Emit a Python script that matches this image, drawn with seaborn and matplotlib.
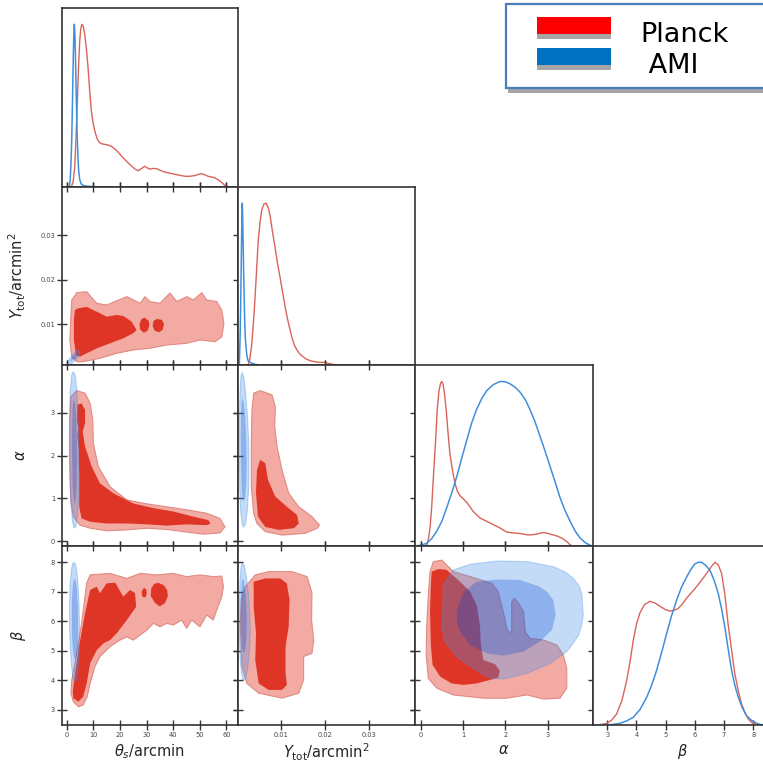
import numpy as np
import pandas as pd
import seaborn as sns
import matplotlib
matplotlib.use("Agg")
import matplotlib.pyplot as plt
from matplotlib.path import Path
from matplotlib.patches import PathPatch, Rectangle

sns.set_theme(style="white")
plt.rcParams["font.family"] = ["DejaVu Sans"]
plt.rcParams["mathtext.fontset"] = "dejavusans"

# ---------------- data: 1D marginals (peak-normalised) ----------------
theta_planck_x = [-1.7, 1.7, 2.4, 3.0, 3.5, 4.0, 4.5, 4.9, 5.3, 5.75, 6.2, 6.75, 7.4, 8.0, 8.6, 9.25, 10.0, 10.8,
                  11.6, 12.4, 13.3, 14.3, 15.5, 16.8, 18.0, 19.3, 20.5, 21.8, 23.0, 24.3, 25.5, 26.8, 28.0,
                  29.3, 30.2, 31.2, 32.5, 33.7, 35.2, 36.8, 38.7, 40.6, 42.5, 44.4, 46.3, 48.1, 49.5, 50.6,
                  51.8, 53.1, 54.4, 55.6, 56.9, 58.1, 59.1, 60.0, 61.0, 64.4]
theta_planck_d = [0, 0, 0.03, 0.12, 0.30, 0.53, 0.76, 0.90, 0.975, 1.0, 0.99, 0.94, 0.85, 0.74, 0.60, 0.47, 0.385,
                  0.33, 0.29, 0.272, 0.265, 0.262, 0.258, 0.25, 0.235, 0.215, 0.192, 0.17, 0.15, 0.13, 0.112,
                  0.10, 0.112, 0.127, 0.118, 0.11, 0.114, 0.113, 0.102, 0.092, 0.085, 0.078, 0.072, 0.066,
                  0.066, 0.07, 0.077, 0.082, 0.076, 0.066, 0.062, 0.057, 0.045, 0.03, 0.015, 0.004, 0, 0]
theta_ami_x = [-1.7, 1.0, 1.3, 1.6, 1.9, 2.2, 2.45, 2.65, 2.86, 3.05, 3.25, 3.45, 3.7, 3.95, 4.2, 4.5, 4.9,
               5.5, 6.5, 8.0, 11.0, 14.9]
theta_ami_d = [0, 0, 0.04, 0.14, 0.3, 0.55, 0.78, 0.93, 1.0, 0.95, 0.83, 0.67, 0.48, 0.31, 0.19, 0.1, 0.045,
               0.018, 0.008, 0.004, 0.002, 0]

Y_planck_x = [0.0003, 0.0026, 0.0030, 0.0034, 0.0038, 0.0042, 0.00455, 0.0049, 0.0053, 0.0057, 0.0062, 0.0067,
              0.0072, 0.0076, 0.0081, 0.0087, 0.0092, 0.0098, 0.0104, 0.0110, 0.0115, 0.0121, 0.0126, 0.0132,
              0.0138, 0.0144, 0.0151, 0.0159, 0.0170, 0.0182, 0.0191, 0.0200, 0.0206, 0.0212, 0.0220, 0.0227,
              0.0405]
Y_planck_d = [0, 0, 0.04, 0.12, 0.26, 0.43, 0.6, 0.77, 0.88, 0.96, 0.995, 1.0, 0.97, 0.92, 0.83, 0.73, 0.64,
              0.55, 0.455, 0.36, 0.29, 0.22, 0.165, 0.117, 0.088, 0.066, 0.05, 0.035, 0.024, 0.018, 0.017,
              0.016, 0.012, 0.008, 0.003, 0, 0]
Y_ami_x = [0.0003, 0.0006, 0.0008, 0.0009, 0.0010, 0.0011, 0.00118, 0.00127, 0.00135, 0.0014, 0.0015, 0.0016,
           0.0017, 0.0018, 0.0019, 0.0020, 0.0023, 0.0026, 0.0032, 0.0042, 0.0053]
Y_ami_d = [0, 0, 0.2, 0.36, 0.55, 0.76, 0.9, 1.0, 0.92, 0.86, 0.7, 0.55, 0.42, 0.3, 0.21, 0.15, 0.06, 0.025,
           0.014, 0.004, 0]

alpha_planck_x = [-0.13, 0.14, 0.18, 0.22, 0.26, 0.30, 0.35, 0.39, 0.43, 0.47, 0.50, 0.53, 0.56, 0.60, 0.645,
                  0.69, 0.75, 0.81, 0.87, 0.93, 1.01, 1.09, 1.16, 1.24, 1.32, 1.40, 1.52, 1.64, 1.75, 1.87,
                  1.95, 2.03, 2.15, 2.27, 2.39, 2.51, 2.62, 2.74, 2.82, 2.90, 2.98, 3.06, 3.15, 3.25, 3.35,
                  3.45, 3.51, 3.57, 4.07]
alpha_planck_d = [0, 0, 0.04, 0.11, 0.24, 0.42, 0.63, 0.83, 0.94, 0.99, 1.0, 0.98, 0.93, 0.83, 0.69, 0.56,
                  0.46, 0.38, 0.33, 0.305, 0.285, 0.264, 0.24, 0.21, 0.19, 0.17, 0.155, 0.14, 0.125, 0.11,
                  0.097, 0.085, 0.08, 0.078, 0.074, 0.068, 0.068, 0.072, 0.078, 0.082, 0.078, 0.072, 0.066,
                  0.058, 0.045, 0.027, 0.012, 0, 0]
alpha_ami_x = [-0.13, 0.0, 0.14, 0.26, 0.38, 0.50, 0.61, 0.73, 0.85, 0.97, 1.09, 1.20, 1.32, 1.44, 1.56, 1.71,
               1.87, 1.99, 2.11, 2.23, 2.35, 2.47, 2.58, 2.70, 2.82, 2.94, 3.06, 3.18, 3.29, 3.41, 3.53, 3.65,
               3.77, 3.90, 4.04]
alpha_ami_d = [0, 0.005, 0.016, 0.045, 0.09, 0.15, 0.23, 0.32, 0.42, 0.535, 0.645, 0.745, 0.83, 0.895, 0.944,
               0.98, 1.0, 0.998, 0.986, 0.965, 0.934, 0.89, 0.83, 0.755, 0.666, 0.575, 0.48, 0.385, 0.295,
               0.215, 0.15, 0.09, 0.047, 0.018, 0]

beta_planck_x = [2.51, 2.69, 2.98, 3.15, 3.32, 3.5, 3.66, 3.78, 3.89, 4.0, 4.12, 4.28, 4.46, 4.63, 4.80, 4.98,
                 5.15, 5.29, 5.43, 5.58, 5.72, 5.89, 6.06, 6.23, 6.40, 6.55, 6.69, 6.80, 6.92, 7.03, 7.14,
                 7.26, 7.37, 7.49, 7.60, 7.72, 7.83, 7.95, 8.06, 8.33, 8.61]
beta_planck_d = [0, 0, 0.01, 0.03, 0.068, 0.15, 0.27, 0.39, 0.52, 0.62, 0.69, 0.74, 0.76, 0.75, 0.73, 0.71,
                 0.70, 0.705, 0.716, 0.745, 0.78, 0.815, 0.85, 0.89, 0.93, 0.97, 1.0, 0.985, 0.93, 0.80, 0.62,
                 0.46, 0.315, 0.21, 0.13, 0.075, 0.037, 0.015, 0.006, 0, 0]
beta_ami_x = [2.51, 2.98, 3.2, 3.43, 3.66, 3.89, 4.12, 4.35, 4.52, 4.69, 4.86, 5.03, 5.2, 5.38, 5.55, 5.72,
              5.86, 6.0, 6.12, 6.23, 6.38, 6.52, 6.66, 6.80, 6.92, 7.03, 7.14, 7.26, 7.37, 7.49, 7.63, 7.77,
              7.92, 8.06, 8.2, 8.33, 8.61]
beta_ami_d = [0, 0, 0.004, 0.01, 0.025, 0.047, 0.095, 0.17, 0.245, 0.335, 0.445, 0.56, 0.67, 0.77, 0.85, 0.91,
              0.955, 0.99, 1.0, 1.0, 0.98, 0.95, 0.89, 0.81, 0.71, 0.6, 0.47, 0.335, 0.245, 0.17, 0.105, 0.058,
              0.032, 0.016, 0.005, 0, 0]

# ---------------- data: 2D credible-region boundaries (68% inner, 95% outer) ----------------
# theta_s vs Y_tot
planck_thY_outer = ([1.9, 3.8, 7.5, 11.3, 15.0, 22.6, 27.6, 29.4, 31.3, 35.1, 38.8, 41.4, 45.1, 47.6, 50.8, 52.6,
                     56.4, 58.3, 59.1, 58.3, 55.8, 50.1, 45.1, 37.6, 31.3, 25.0, 18.8, 12.5, 6.2, 3.8, 1.9, 1.2, 1.5],
                    [0.01545, 0.01709, 0.0173, 0.0147, 0.01433, 0.0162, 0.0147, 0.0162, 0.0151, 0.0147, 0.0170,
                     0.0151, 0.0162, 0.01545, 0.0171, 0.01545, 0.0151, 0.0132, 0.0102, 0.0072, 0.0061, 0.00648,
                     0.00574, 0.00536, 0.00462, 0.00424, 0.0035, 0.00238, 0.00161, 0.00161, 0.00274, 0.00648, 0.011])
planck_thY_inner = ([3.1, 4.4, 7.5, 12.5, 15.0, 18.8, 21.3, 24.4, 26.3, 25.0, 21.3, 16.3, 11.3, 7.5, 5.0, 3.5, 2.7, 2.7],
                    [0.0132, 0.0136, 0.0139, 0.01247, 0.0117, 0.0121, 0.01186, 0.0106, 0.0087, 0.0080, 0.00686,
                     0.00574, 0.0046, 0.0035, 0.00274, 0.0031, 0.0065, 0.011])
planck_thY_island1 = ([29.2, 30.8, 31.1, 30.5, 29.0, 27.6, 27.4, 28.0],
                      [0.0115, 0.0108, 0.0098, 0.0086, 0.0081, 0.0088, 0.0100, 0.0111])
planck_thY_island2 = ([34.0, 35.8, 36.6, 36.0, 34.6, 33.0, 32.3, 32.7],
                      [0.0112, 0.0110, 0.0100, 0.0087, 0.0082, 0.0086, 0.0097, 0.0108])
ami_thY_outer = ([0.7, 1.5, 2.5, 3.5, 4.4, 5.0, 4.6, 3.9, 3.2, 2.3, 1.5, 0.6],
                 [0.0013, 0.0011, 0.0015, 0.0021, 0.0028, 0.0033, 0.0042, 0.0041, 0.0038, 0.0032, 0.0026, 0.0018])
ami_thY_inner = ([1.5, 3.0, 4.2, 3.6, 2.2, 1.3],
                 [0.0016, 0.0022, 0.0032, 0.0036, 0.0028, 0.0020])

# theta_s vs alpha
planck_tha_outer = ([3.76, 6.9, 8.8, 9.8, 10.0, 11.9, 16.3, 22.6, 30.1, 37.6, 45.1, 52.6, 57.6, 59.5, 57.6, 51.4,
                     43.8, 37.6, 30.1, 22.6, 15.0, 8.8, 5.0, 2.5, 1.5, 1.2, 1.2, 1.6],
                    [3.52, 3.46, 3.22, 2.83, 2.29, 1.74, 1.27, 0.96, 0.87, 0.80, 0.73, 0.65, 0.53, 0.33, 0.19, 0.16,
                     0.22, 0.27, 0.30, 0.26, 0.24, 0.30, 0.37, 0.57, 0.96, 1.90, 2.83, 3.38])
planck_tha_inner = ([4.0, 5.6, 6.9, 6.9, 6.0, 6.9, 9.4, 12.5, 17.5, 25.0, 32.6, 40.1, 47.6, 53.2, 54.1, 52.6, 45.1,
                     37.6, 30.1, 22.6, 15.0, 8.8, 5.6, 4.7, 4.7, 4.4, 4.0, 4.4, 3.8],
                    [3.19, 3.22, 3.07, 2.76, 2.56, 2.21, 1.74, 1.35, 1.12, 0.88, 0.77, 0.69, 0.57, 0.49, 0.41, 0.37,
                     0.39, 0.36, 0.39, 0.41, 0.41, 0.45, 0.53, 0.80, 1.51, 2.21, 2.48, 2.64, 2.83])
ami_tha_outer = ([2.7, 3.3, 3.9, 4.3, 4.55, 4.6, 4.4, 4.0, 3.4, 2.8, 2.2, 1.6, 1.15, 0.95, 1.0, 1.3, 1.8, 2.2],
                 [3.95, 3.85, 3.45, 2.8, 2.1, 1.5, 0.95, 0.55, 0.33, 0.3, 0.45, 0.85, 1.5, 2.2, 2.9, 3.5, 3.85, 3.95])
ami_tha_inner = ([2.8, 3.2, 3.6, 3.85, 3.9, 3.75, 3.45, 3.0, 2.55, 2.2, 2.0, 2.0, 2.2, 2.5],
                 [3.3, 3.2, 2.85, 2.3, 1.8, 1.3, 0.98, 0.88, 1.0, 1.4, 2.0, 2.6, 3.05, 3.28])

# theta_s vs beta
planck_thb_outer = ([1.9, 3.1, 5.6, 7.5, 8.8, 16.3, 22.6, 27.6, 33.8, 40.1, 45.1, 50.1, 55.1, 58.3, 58.9, 58.3,
                     56.4, 55.1, 52.6, 50.1, 47.0, 45.1, 43.2, 40.1, 37.6, 35.1, 32.6, 30.1, 27.6, 25.0, 22.6,
                     20.0, 16.3, 12.5, 10.6, 8.8, 7.7, 6.2, 4.4, 2.5, 1.6],
                    [4.01, 4.57, 5.93, 7.28, 7.57, 7.62, 7.45, 7.62, 7.57, 7.62, 7.51, 7.57, 7.51, 7.53, 7.17, 6.83,
                     6.38, 6.04, 6.21, 5.81, 6.04, 5.76, 6.04, 5.87, 5.93, 5.81, 5.93, 5.70, 5.53, 5.36, 5.47,
                     5.36, 5.14, 4.80, 4.46, 3.89, 3.44, 3.16, 3.10, 3.27, 3.56])
planck_thb_inner = ([2.5, 4.4, 6.9, 8.8, 11.3, 12.5, 15.0, 18.2, 21.3, 23.8, 25.7, 26.1, 24.4, 22.6, 18.8, 16.3,
                     13.8, 11.3, 8.8, 7.5, 6.2, 4.4, 2.5, 2.3],
                    [3.78, 5.02, 6.27, 7.06, 7.17, 6.95, 7.28, 7.31, 6.83, 7.06, 6.95, 6.49, 6.27, 6.04, 5.59, 5.36,
                     5.25, 5.02, 4.57, 3.89, 3.44, 3.27, 3.39, 3.61])
planck_thb_island1 = ([29.1, 29.9, 30.1, 29.8, 29.0, 28.3, 28.2],
                      [7.13, 7.08, 6.95, 6.83, 6.80, 6.87, 7.02])
planck_thb_island2 = ([34.5, 36.5, 37.8, 38.0, 37.0, 35.0, 33.2, 31.6, 31.8, 33.0],
                      [7.30, 7.22, 7.05, 6.85, 6.62, 6.50, 6.62, 6.85, 7.12, 7.27])
ami_thb_outer = ([2.8, 3.4, 4.0, 4.5, 4.75, 4.8, 4.6, 4.2, 3.6, 2.9, 2.3, 1.8, 1.35, 1.1, 1.05, 1.25, 1.7, 2.2],
                 [8.0, 7.9, 7.55, 6.9, 6.2, 5.5, 4.8, 4.3, 4.0, 3.95, 4.1, 4.5, 5.1, 5.8, 6.5, 7.2, 7.7, 7.95])
ami_thb_inner = ([3.0, 3.5, 3.95, 4.25, 4.3, 4.15, 3.8, 3.2, 2.6, 2.15, 1.9, 1.9, 2.1, 2.5],
                 [7.45, 7.35, 7.0, 6.4, 5.8, 5.2, 4.85, 4.7, 4.8, 5.2, 5.8, 6.5, 7.0, 7.35])

# Y_tot vs alpha
planck_Ya_outer = ([0.00386, 0.00536, 0.00802, 0.00877, 0.00864, 0.00916, 0.0103, 0.0118, 0.0141, 0.0171, 0.0188,
                    0.0183, 0.0156, 0.0103, 0.0065, 0.00461, 0.00386, 0.00332, 0.00332, 0.00348],
                   [3.46, 3.52, 3.42, 3.15, 2.68, 2.21, 1.66, 1.12, 0.80, 0.57, 0.37, 0.30, 0.18, 0.14, 0.22,
                    0.41, 0.65, 1.27, 2.29, 3.07])
planck_Ya_inner = ([0.00536, 0.0065, 0.00711, 0.00877, 0.01143, 0.0137, 0.0141, 0.0130, 0.00955, 0.0065, 0.00484,
                    0.00439, 0.00461],
                   [1.90, 1.82, 1.43, 1.04, 0.80, 0.61, 0.41, 0.30, 0.26, 0.33, 0.57, 1.12, 1.66])
ami_Ya_outer = ([0.0012, 0.0016, 0.0020, 0.0024, 0.0027, 0.0028, 0.0027, 0.0024, 0.0020, 0.0016, 0.0012, 0.0009,
                 0.0007, 0.00062, 0.0006, 0.00065, 0.00078, 0.00095],
                [3.95, 3.85, 3.5, 3.0, 2.4, 1.8, 1.2, 0.7, 0.4, 0.32, 0.4, 0.7, 1.2, 1.8, 2.4, 3.0, 3.5, 3.85])
ami_Ya_inner = ([0.00135, 0.0017, 0.0020, 0.0022, 0.0023, 0.0022, 0.0019, 0.0016, 0.0013, 0.0011, 0.00095, 0.0009,
                 0.00095, 0.0011],
                [3.35, 3.2, 2.85, 2.3, 1.8, 1.35, 1.0, 0.92, 1.0, 1.3, 1.8, 2.4, 2.9, 3.25])

# Y_tot vs beta
planck_Yb_outer = ([0.00195, 0.00423, 0.00727, 0.0126, 0.0160, 0.0171, 0.0170, 0.0175, 0.0171, 0.0152, 0.0152,
                    0.0141, 0.0103, 0.0050, 0.00234, 0.00120, 0.00082, 0.00105],
                   [7.17, 7.57, 7.68, 7.68, 7.51, 6.95, 6.04, 5.36, 4.91, 4.80, 4.01, 3.56, 3.39, 3.56, 3.89,
                    4.46, 5.81, 6.72])
planck_Yb_inner = ([0.00386, 0.0065, 0.0099, 0.0114, 0.0120, 0.0118, 0.0111, 0.0111, 0.0114, 0.0103, 0.00727,
                    0.0050, 0.00423, 0.00439, 0.00386],
                   [7.34, 7.45, 7.45, 7.28, 6.72, 5.81, 5.14, 4.23, 3.84, 3.67, 3.67, 3.89, 4.68, 5.59, 6.49])
ami_Yb_outer = ([0.0012, 0.0017, 0.0022, 0.0027, 0.0030, 0.0031, 0.0029, 0.0025, 0.0020, 0.0015, 0.0011, 0.0008,
                 0.00065, 0.0006, 0.00063, 0.00075, 0.00095],
                [7.98, 7.9, 7.5, 6.9, 6.2, 5.6, 5.0, 4.4, 4.05, 3.98, 4.2, 4.7, 5.3, 6.0, 6.7, 7.3, 7.8])
ami_Yb_inner = ([0.0013, 0.0017, 0.0020, 0.0022, 0.0023, 0.0022, 0.0019, 0.0015, 0.0012, 0.0010, 0.0009, 0.00093,
                 0.0011],
                [7.45, 7.35, 7.0, 6.5, 5.9, 5.4, 5.0, 4.92, 5.1, 5.6, 6.2, 6.8, 7.25])

# alpha vs beta
planck_ab_outer = ([0.30, 0.50, 0.77, 1.32, 1.68, 1.83, 1.95, 2.03, 2.11, 2.15, 2.15, 2.21, 2.31, 2.43, 2.47, 2.58,
                    2.90, 3.22, 3.37, 3.45, 3.45, 3.29, 2.90, 2.51, 2.03, 1.48, 0.77, 0.38, 0.18, 0.13, 0.14,
                    0.18, 0.22],
                   [8.02, 8.07, 7.68, 7.45, 7.28, 7.0, 6.32, 5.76, 5.59, 5.70, 6.66, 6.78, 6.61, 6.32, 5.64, 5.42,
                    5.36, 5.19, 4.85, 4.40, 3.73, 3.39, 3.36, 3.50, 3.39, 3.39, 3.50, 3.73, 4.06, 4.85, 5.76,
                    6.89, 7.68])
planck_ab_inner = ([0.26, 0.42, 0.61, 0.93, 1.17, 1.32, 1.40, 1.42, 1.48, 1.76, 1.87, 1.83, 1.64, 1.32, 1.01, 0.73,
                    0.46, 0.28, 0.24, 0.22, 0.24],
                   [7.68, 7.77, 7.74, 7.34, 7.0, 6.55, 5.87, 5.19, 4.68, 4.54, 4.31, 4.08, 4.01, 3.89, 3.84, 3.89,
                    4.12, 4.52, 5.19, 6.32, 7.23])
ami_ab_outer = ([0.53, 0.77, 1.17, 1.80, 2.51, 3.13, 3.40, 3.61, 3.75, 3.81, 3.84, 3.80, 3.73, 3.60, 3.45, 3.06,
                 2.51, 1.95, 1.64, 1.24, 0.85, 0.57, 0.50, 0.52],
                [7.23, 7.74, 7.93, 8.04, 8.02, 7.85, 7.68, 7.45, 7.18, 6.89, 6.21, 5.85, 5.53, 5.24, 4.97, 4.57,
                 4.23, 4.04, 4.06, 4.40, 4.80, 5.31, 5.80, 6.32])
ami_ab_inner = ([0.85, 1.01, 1.32, 1.80, 2.35, 2.82, 3.0, 3.13, 3.19, 3.10, 2.82, 2.43, 1.95, 1.56, 1.17, 0.93, 0.86],
                [6.32, 7.0, 7.34, 7.42, 7.40, 7.17, 6.98, 6.72, 6.21, 5.70, 5.31, 4.97, 4.83, 4.91, 5.19, 5.64, 5.95])

# ---------------- axes description ----------------
param_labels = [r"$\theta_s$/arcmin", r"$Y_{\rm tot}$/arcmin$^2$", r"$\alpha$", r"$\beta$"]
tick_values = [[0, 10, 20, 30, 40, 50, 60], [0.01, 0.02, 0.03], [0, 1, 2, 3], [3, 4, 5, 6, 7, 8]]
tick_labels = [["0", "10", "20", "30", "40", "50", "60"], ["0.01", "0.02", "0.03"], ["0", "1", "2", "3"],
               ["3", "4", "5", "6", "7", "8"]]
x_limits = [(-1.77, 64.4), (0.0003, 0.0405), (-0.135, 4.07), (2.51, 8.61)]
y_limits = [None, (0.00087, 0.0408), (-0.117, 4.12), (2.48, 8.55)]

marginals = [
    (theta_planck_x, theta_planck_d, theta_ami_x, theta_ami_d),
    (Y_planck_x, Y_planck_d, Y_ami_x, Y_ami_d),
    (alpha_planck_x, alpha_planck_d, alpha_ami_x, alpha_ami_d),
    (beta_planck_x, beta_planck_d, beta_ami_x, beta_ami_d),
]
pairs = {
    (1, 0): ([planck_thY_outer], [planck_thY_inner, planck_thY_island1, planck_thY_island2], ami_thY_outer, ami_thY_inner),
    (2, 0): ([planck_tha_outer], [planck_tha_inner], ami_tha_outer, ami_tha_inner),
    (3, 0): ([planck_thb_outer], [planck_thb_inner, planck_thb_island1, planck_thb_island2], ami_thb_outer, ami_thb_inner),
    (2, 1): ([planck_Ya_outer], [planck_Ya_inner], ami_Ya_outer, ami_Ya_inner),
    (3, 1): ([planck_Yb_outer], [planck_Yb_inner], ami_Yb_outer, ami_Yb_inner),
    (3, 2): ([planck_ab_outer], [planck_ab_inner], ami_ab_outer, ami_ab_inner),
}

# ---------------- styling ----------------
RED_LINE = "#d9645a"
BLUE_LINE = "#3f8fdc"
RED_OUT = "#f2aaa3"
RED_OUT_EDGE = "#e08a82"
RED_IN = "#de3526"
BLUE_OUT = "#4891e8"
BLUE_IN = "#1e64dc"

W, H = 763, 764
col_left = [62, 238, 415, 593]
col_w = [176, 177, 178, 178]
row_top = [8, 187, 365, 546]
row_h = [179, 178, 181, 179]

fig = plt.figure(figsize=(W / 100, H / 100), dpi=100)


def signed_area(xs, ys):
    x = np.asarray(xs); y = np.asarray(ys)
    return 0.5 * np.sum(x * np.roll(y, -1) - np.roll(x, -1) * y)


def ring(xs, ys):
    v = list(zip(xs, ys))
    return v + [v[0]], [Path.MOVETO] + [Path.LINETO] * (len(v) - 1) + [Path.CLOSEPOLY]


def band_patch(outer, inner, **kw):
    ov, oc = ring(*outer)
    ix, iy = list(inner[0]), list(inner[1])
    if np.sign(signed_area(*outer)) == np.sign(signed_area(ix, iy)):
        ix, iy = ix[::-1], iy[::-1]
    iv, ic = ring(ix, iy)
    return PathPatch(Path(ov + iv, oc + ic), **kw)


axes = {}
for i in range(4):
    for j in range(i + 1):
        rect = [col_left[j] / W, 1 - (row_top[i] + row_h[i]) / H, col_w[j] / W, row_h[i] / H]
        ax = fig.add_axes(rect)
        axes[(i, j)] = ax
        ax.set_facecolor("white")
        for s in ax.spines.values():
            s.set_color("#333333")
            s.set_linewidth(1.2)
            s.set_zorder(10)
        ax.set_xlim(*x_limits[j])
        ax.set_xticks(tick_values[j])
        ax.set_xticklabels(tick_labels[j] if i == 3 else [])
        common = dict(direction="inout", length=7, width=1.0, color="#333333",
                      labelsize=4.8, labelcolor="#444444", pad=1.5)
        if i == j:
            px, pdn, ax_x, ax_d = marginals[i]
            df = pd.DataFrame({"x": px, "d": pdn})
            sns.lineplot(data=df, x="x", y="d", ax=ax, color=RED_LINE, lw=1.0, estimator=None, sort=False)
            df2 = pd.DataFrame({"x": ax_x, "d": ax_d})
            sns.lineplot(data=df2, x="x", y="d", ax=ax, color=BLUE_LINE, lw=1.1, estimator=None, sort=False)
            ax.set_ylim(0, 1.1)
            ax.set_yticks([])
            ax.tick_params(axis="x", bottom=True, top=False, **common)
            ax.tick_params(axis="y", left=False, right=False)
        else:
            ax.set_ylim(*y_limits[i])
            ax.set_yticks(tick_values[i])
            ax.set_yticklabels(tick_labels[i] if j == 0 else [])
            ax.tick_params(axis="both", bottom=True, top=True, left=True, right=True, **common)
            red_outs, red_ins, b_out, b_in = pairs[(i, j)]
            for poly in red_outs:
                ax.fill(poly[0], poly[1], facecolor=RED_OUT, edgecolor=RED_OUT_EDGE, lw=0.8, zorder=1)
            for poly in red_ins:
                ax.fill(poly[0], poly[1], facecolor=RED_IN, edgecolor="none", zorder=2)
            ax.add_patch(band_patch(b_out, b_in, facecolor=BLUE_OUT, edgecolor="none", alpha=0.32, zorder=3))
            ax.fill(b_out[0], b_out[1], facecolor="none", edgecolor=BLUE_OUT, alpha=0.35, lw=0.8, zorder=3)
            ax.fill(b_in[0], b_in[1], facecolor=BLUE_IN, edgecolor="none", alpha=0.5, zorder=4)
        ax.set_xlabel(param_labels[j] if i == 3 else "", fontsize=10.5)
        ax.set_ylabel(param_labels[i] if (j == 0 and i > 0) else "", fontsize=10.5)
        if i == 3:
            ax.xaxis.set_label_coords(0.5, -0.095)
        if j == 0 and i > 0:
            ax.yaxis.set_label_coords(-0.195, 0.5)

# ---------------- legend ----------------
lax = fig.add_axes([0, 0, 1, 1], zorder=20)
lax.set_xlim(0, W)
lax.set_ylim(H, 0)
lax.axis("off")
lax.add_patch(Rectangle((508, 9), 280, 84, facecolor="#a6a6a6", edgecolor="none"))
lax.add_patch(Rectangle((506, 4), 280, 84, facecolor="white", edgecolor="#4a7ebb", lw=1.6))
legend_names = ["Planck", " AMI"]
legend_colors = ["#ff0000", "#0070c0"]
for k, (name, colr) in enumerate(zip(legend_names, legend_colors)):
    top = 16.5 + 31 * k
    lax.add_patch(Rectangle((537, top + 5), 74, 17.5, facecolor="#a6a6a6", edgecolor="none"))
    lax.add_patch(Rectangle((537, top), 74, 17.5, facecolor=colr, edgecolor="none"))
    lax.text(640, 41.7 + 31 * k, name, fontsize=19.5, color="black", ha="left", va="baseline")

fig.savefig("out.png", dpi=100)
